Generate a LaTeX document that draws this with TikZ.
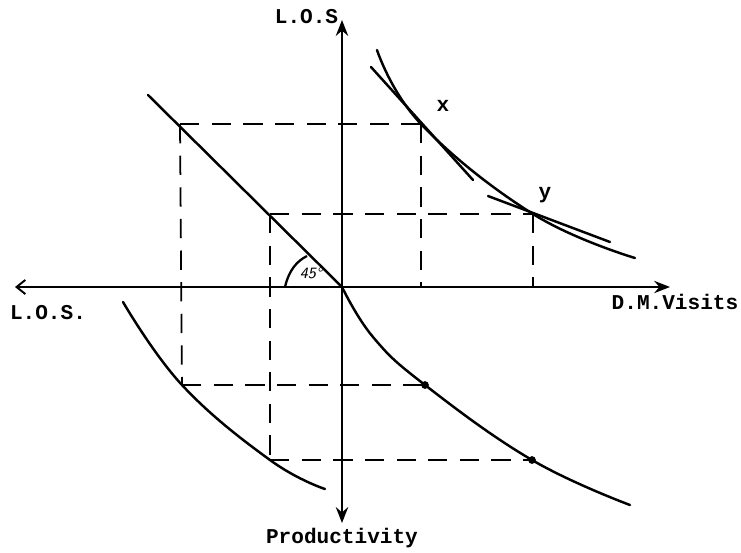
\documentclass[tikz,border=0pt]{standalone}
\usepackage{fontspec}
\setmonofont{Liberation Mono}
\usetikzlibrary{
arrows.meta,
positioning
}

\begin{document}
\begin{tikzpicture}[
x=0.02cm, y=-0.02cm,
axis/.style={line width=1.4pt},
curve/.style={line width=1.4pt, line cap=round},
guide/.style={line width=1pt, dash pattern=on 11pt off 7pt},
lbl/.style={font=\ttfamily\bfseries\fontsize{12}{14}\selectfont, inner sep=0pt},
tip/.style={-{Stealth[length=9pt,width=7pt]}}
]
\useasboundingbox (0,0) rectangle (741,552);

\coordinate (O) at (342,287);
\coordinate (top) at (342,20);
\coordinate (bottom) at (342,523);
\coordinate (left) at (15,287);
\coordinate (right) at (670,287);

% axes
\draw[axis,tip] (O) -- (top);
\draw[axis,tip] (O) -- (bottom);
\draw[line width=1.1pt,tip] (O) -- (right);
\draw[line width=1.1pt,-{Straight Barb[length=5pt,width=8pt]}] (O) -- (left);

\node[lbl,left=2pt of top,yshift=2pt] (lostop) {L.O.S};
\node[lbl] (losleft) at (48,313) {L.O.S.};
\node[lbl] (visits) at (675,302) {D.M.Visits};
\node[lbl,below=3pt of bottom] (prod) {Productivity};

% points
\coordinate (X) at (421,124);
\coordinate (Y) at (533,214);
\coordinate (A) at (180,124);
\coordinate (B) at (270,214);
\coordinate (P) at (182,385);
\coordinate (R) at (270,460);
\coordinate (Q) at (425,385);
\coordinate (S) at (532,460);

% dashed guides
\draw[guide] (A) -- (X);
\draw[guide] (A) -- (P);
\draw[guide] (P) -- (Q);
\draw[guide] (B) -- (Y);
\draw[guide] (B) -- (R);
\draw[guide] (R) -- (S);
\draw[guide] (X) -- (X |- O);
\draw[guide] (Y) -- (Y |- O);

% 45 degree line
\draw[curve] (148,95) -- (O);
\draw[line width=1.3pt] (285,287) .. controls (289,270) and (297,261) .. (307,256);
\node[font=\sffamily\itshape\small,inner sep=0pt] (angle) at (311,273) {45°};

% curves
\draw[curve] plot[smooth,tension=0.7] coordinates {(377,50) (X) (Y) (635,258)};
\draw[curve] (371,67) -- (473,180);
\draw[curve] (488,196) -- (610,242);
\draw[curve] plot[smooth,tension=0.7] coordinates {(123,302) (P) (R) (325,489)};
\draw[curve] plot[smooth,tension=0.7] coordinates {(O) (373,337) (Q) (S) (630,505)};

\fill (Q) circle[radius=2.2pt];
\fill (S) circle[radius=2.2pt];

\node[lbl] (xlab) at (443,106) {x};
\node[lbl] (ylab) at (545,195) {y};

\end{tikzpicture}
\end{document}
